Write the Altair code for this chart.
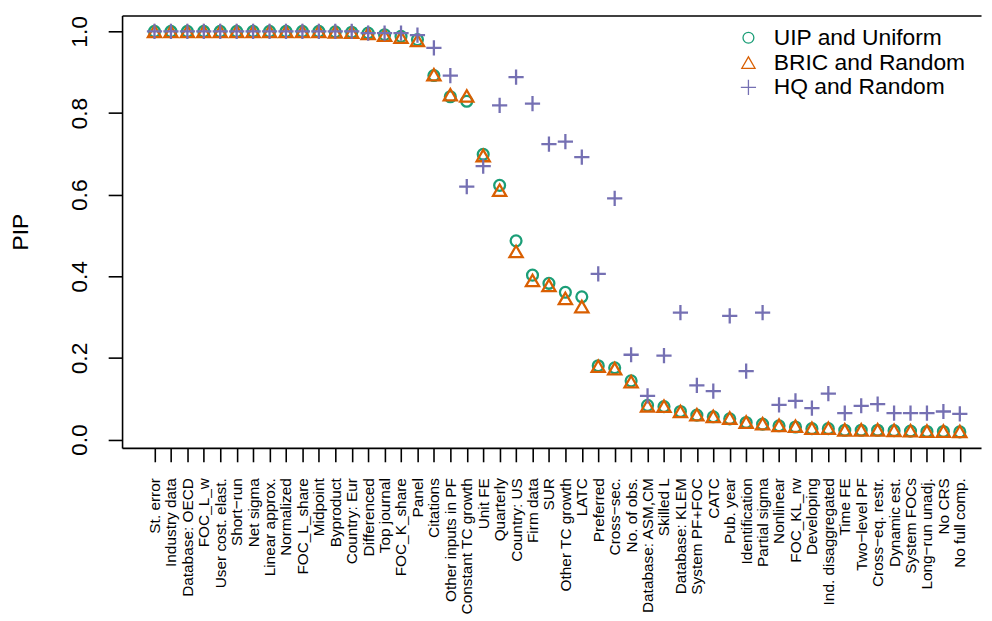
import json
import altair as alt
import pandas as pd

names = [
    "St. error", "Industry data", "Database: OECD", "FOC_L_w", "User cost. elast.",
    "Short\u2212run", "Net sigma", "Linear approx.", "Normalized", "FOC_L_share",
    "Midpoint", "Byproduct", "Country: Eur", "Differenced", "Top journal",
    "FOC_K_share", "Panel", "Citations", "Other inputs in PF", "Constant TC growth",
    "Unit FE", "Quarterly", "Country: US", "Firm data", "SUR",
    "Other TC growth", "LATC", "Preferred", "Cross\u2212sec.", "No. of obs.",
    "Database: ASM,CM", "Skilled L", "Database: KLEM", "System PF+FOC", "CATC",
    "Pub. year", "Identification", "Partial sigma", "Nonlinear", "FOC_KL_rw",
    "Developing", "Ind. disaggregated", "Time FE", "Two\u2212level PF", "Cross\u2212eq. restr.",
    "Dynamic est.", "System FOCs", "Long\u2212run unadj.", "No CRS", "No full comp.",
]

uip = [
    1.000, 1.000, 1.000, 1.000, 1.000, 1.000, 1.000, 1.000, 1.000, 1.000,
    1.000, 0.999, 0.998, 0.996, 0.992, 0.988, 0.980, 0.892, 0.840, 0.829,
    0.699, 0.623, 0.487, 0.403, 0.383, 0.361, 0.350, 0.181, 0.176, 0.144,
    0.084, 0.081, 0.069, 0.060, 0.056, 0.051, 0.042, 0.038, 0.034, 0.031,
    0.027, 0.027, 0.023, 0.023, 0.023, 0.022, 0.021, 0.020, 0.020, 0.019,
]
bric = [
    1.000, 1.000, 1.000, 1.000, 1.000, 1.000, 1.000, 1.000, 1.000, 1.000,
    1.000, 0.999, 0.998, 0.995, 0.991, 0.986, 0.978, 0.894, 0.845, 0.842,
    0.696, 0.611, 0.461, 0.390, 0.378, 0.346, 0.326, 0.180, 0.174, 0.142,
    0.083, 0.082, 0.069, 0.061, 0.057, 0.053, 0.043, 0.039, 0.035, 0.033,
    0.028, 0.028, 0.024, 0.024, 0.024, 0.023, 0.022, 0.021, 0.021, 0.020,
]
hq = [
    1.000, 1.000, 1.000, 1.000, 1.000, 1.000, 1.000, 1.000, 1.000, 1.000,
    1.000, 1.000, 1.000, 0.996, 0.996, 0.996, 0.991, 0.960, 0.892, 0.620,
    0.670, 0.819, 0.888, 0.823, 0.724, 0.730, 0.692, 0.406, 0.591, 0.208,
    0.107, 0.206, 0.311, 0.133, 0.119, 0.303, 0.168, 0.311, 0.085, 0.095,
    0.077, 0.113, 0.065, 0.083, 0.087, 0.065, 0.065, 0.065, 0.069, 0.063,
]

series = ["UIP and Uniform", "BRIC and Random", "HQ and Random"]
colors = ["#1B9E77", "#D95F02", "#7570B3"]
shapes = ["circle", "triangle-up", "M-1,0L1,0M0,-1L0,1"]
sizes = [120, 235, 290]
y_ticks = [0.0, 0.2, 0.4, 0.6, 0.8, 1.0]

rows = []
for s, vals in zip(series, [uip, bric, hq]):
    for i, (n, v) in enumerate(zip(names, vals)):
        rows.append({"idx": i + 1, "name": n, "series": s, "pip": v})
df = pd.DataFrame(rows)

FONT = "Liberation Sans"
label_expr = json.dumps(names) + "[datum.value - 1]"

x_scale = alt.Scale(domain=[-0.973, 51.29], nice=False, zero=False)
y_scale = alt.Scale(domain=[-0.0202, 1.0392], nice=False, zero=False)

legend = alt.Legend(
    title=None, orient="none", legendX=620, legendY=11, padding=0,
    labelFontSize=23, labelFont=FONT, labelColor="black", labelOffset=14,
    labelLimit=0, symbolStrokeWidth=1.3, rowPadding=1,
)

points = alt.Chart(df).mark_point(filled=False, strokeWidth=2.3, opacity=1).encode(
    x=alt.X(
        "idx:Q", scale=x_scale,
        axis=alt.Axis(
            values=list(range(1, 51)), labelExpr=label_expr, labelAngle=-90,
            labelAlign="right", labelBaseline="middle", labelFontSize=15.5,
            labelPadding=16, tickSize=14, title=None, grid=False,
            labelOverlap=False, labelFlush=False, labelBound=False,
            domainColor="black", tickColor="black", labelColor="black",
        ),
    ),
    y=alt.Y(
        "pip:Q", scale=y_scale,
        axis=alt.Axis(
            values=y_ticks, format=".1f", labelAngle=-90, labelAlign="center",
            labelBaseline="middle", labelFontSize=23, labelPadding=29, tickSize=14,
            title="PIP", titleFontSize=23, titleFontWeight="normal", titleX=-102,
            titleY=218, titleAngle=-90, titleAlign="center", titleBaseline="middle",
            grid=False, domainColor="black", tickColor="black", labelColor="black",
            titleColor="black", labelOverlap=False,
        ),
    ),
    color=alt.Color("series:N", scale=alt.Scale(domain=series, range=colors), legend=legend),
    shape=alt.Shape("series:N", scale=alt.Scale(domain=series, range=shapes), legend=legend),
    size=alt.Size("series:N", scale=alt.Scale(domain=series, range=sizes), legend=legend),
)

top = alt.Chart(df).mark_point(opacity=0).encode(
    x=alt.X(
        "idx:Q", scale=x_scale,
        axis=alt.Axis(orient="top", labels=False, ticks=False, domain=True,
                      title=None, grid=False, domainColor="black"),
    ),
)

chart = (
    alt.layer(points, top)
    .resolve_axis(x="independent")
    .properties(
        width=866, height=436,
        autosize=alt.AutoSizeParams(type="none"),
        padding={"left": 115, "top": 5, "right": 3, "bottom": 170},
    )
    .configure_view(stroke=None)
    .configure_axis(domainWidth=1.6, tickWidth=1.6, labelFont=FONT, titleFont=FONT)
    .configure_legend(labelFont=FONT)
)

chart.save("out.html", embed_options={"renderer": "svg", "actions": False})
